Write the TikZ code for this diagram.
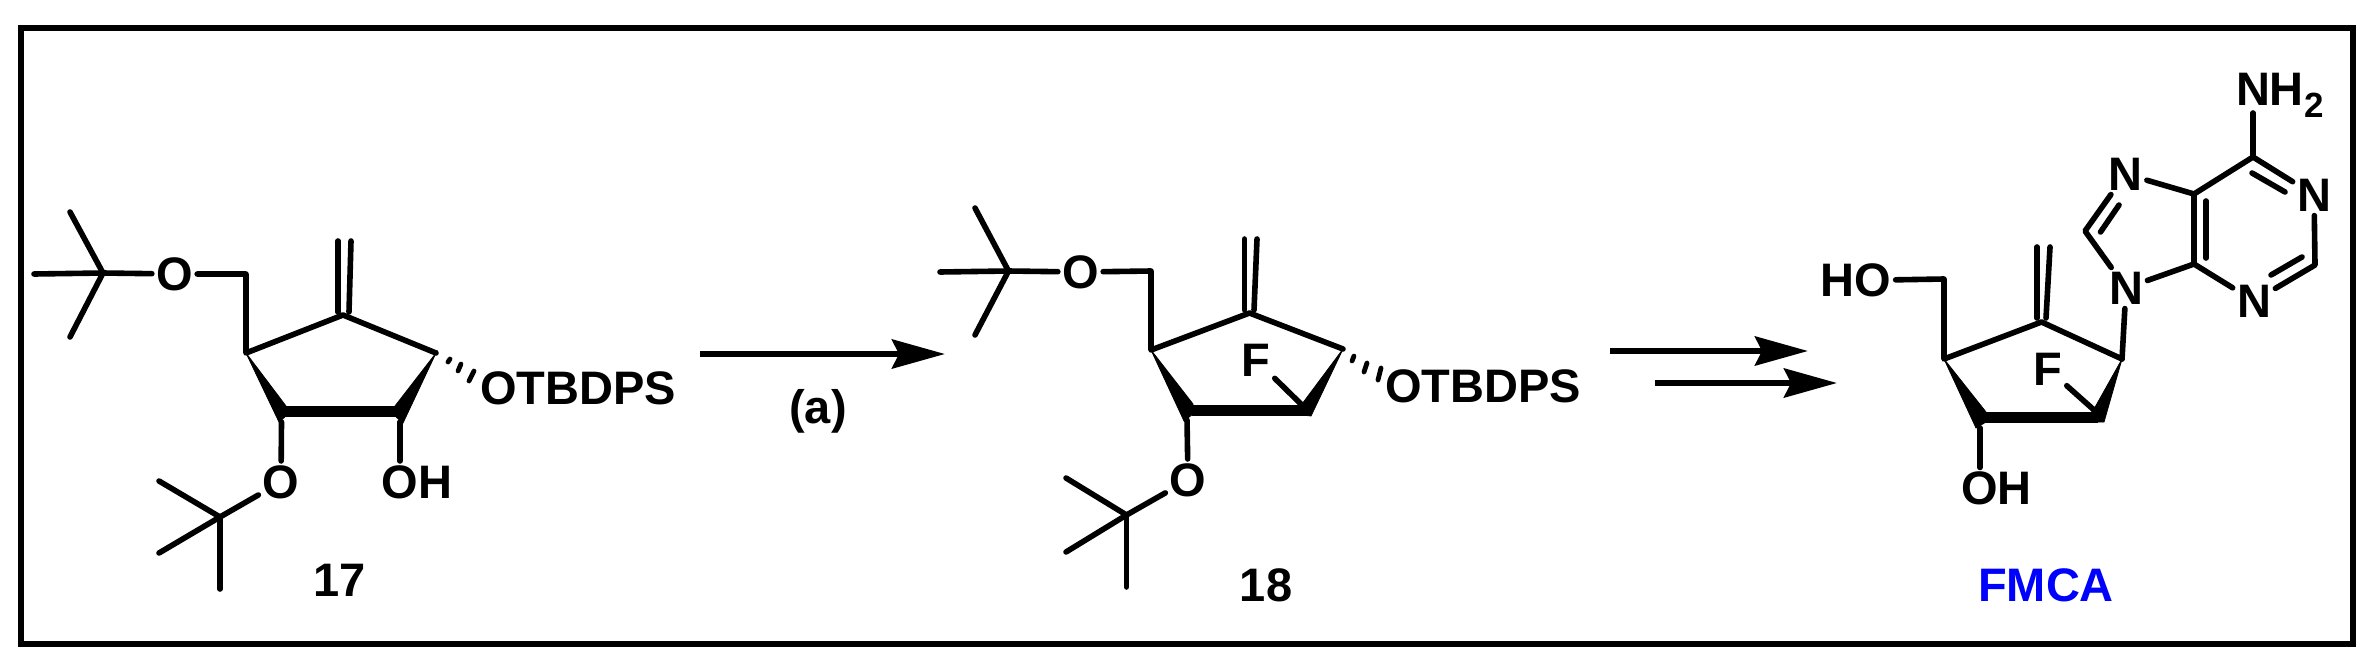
\documentclass[tikz,border=0pt]{standalone}
\usepackage{fontspec}
\setmainfont{Liberation Sans}
\usetikzlibrary{arrows.meta}
\definecolor{fmcablue}{RGB}{0,0,255}
\tikzset{
  x=0.5pt,y=-0.5pt,
  bond/.style={line width=2.8pt,line cap=round,line join=round,black},
  hash/.style={line width=2.4pt,line cap=round,black},
  solid wedge/.style={fill=black,draw=black,line width=0.4pt,line join=miter},
  atom/.style={inner sep=2.2pt,outer sep=0pt,font=\fontsize{23.5}{26}\selectfont\bfseries,text=black},
  cmpd/.style={inner sep=0pt,outer sep=0pt,font=\fontsize{23.5}{26}\selectfont\bfseries,text=black},
  rxn/.style={line width=3pt,-{Stealth[length=26.5pt,width=14.5pt,inset=3.5pt]},black},
  frame/.style={draw=black,line width=3pt,line join=miter}
}
\begin{document}
\begin{tikzpicture}
\useasboundingbox (0,0) rectangle (2370,669);
\coordinate (fa) at (21,28); \coordinate (fb) at (2353,644);
\draw[frame] (fa) rectangle (fb);

% ---------- compound 17
\coordinate (a-tbu) at (103,273);
\coordinate (a-m1) at (70,212);
\coordinate (a-m2) at (34,274);
\coordinate (a-m3) at (70,337);
\coordinate (a-ch2) at (246,274);
\coordinate (a-c1) at (246,353);
\coordinate (a-c2) at (343,315);
\coordinate (a-c3) at (436,353);
\coordinate (a-c4) at (400,422);
\coordinate (a-c5) at (281.5,422);
\coordinate (a-d1) at (338,241);
\coordinate (a-d2) at (351,241);
\coordinate (a-d1b) at (338,312);
\coordinate (a-d2b) at (349,312);
\coordinate (a-tb) at (220,517);
\coordinate (a-m4) at (159,481);
\coordinate (a-m5) at (159,553);
\coordinate (a-m6) at (220,589);
\node[atom] (a-o1) at (174.5,274) {O};
\node[atom] (a-o2) at (281,482) {O};
\node[atom] (a-oh) at (417,482) {OH};
\node[cmpd] (a-otb) at (578,388) {OTBDPS};
\node[cmpd] (a-lab) at (340,580) {17};
\draw[bond] (a-m1) -- (a-tbu);
\draw[bond] (a-m2) -- (a-tbu);
\draw[bond] (a-m3) -- (a-tbu);
\draw[bond] (a-tbu) -- (a-o1);
\draw[bond] (a-o1) -- (a-ch2) -- (a-c1) -- (a-c2) -- (a-c3);
\draw[bond] (a-d1) -- (a-d1b);
\draw[bond] (a-d2) -- (a-d2b);
\fill[solid wedge] (a-c1) -- (286,406) -- (286,416) -- (279,422) -- cycle;
\fill[solid wedge] (286,406) rectangle (396,416);
\fill[solid wedge] (a-c3) -- (395,406) -- (395,416) -- (403,423) -- cycle;
\draw[bond] (a-c5) -- (a-o2);
\draw[bond] (a-c4) -- (a-c4 |- a-oh.north);
\draw[bond] (a-tb) -- (a-o2);
\draw[bond] (a-tb) -- (a-m4);
\draw[bond] (a-tb) -- (a-m5);
\draw[bond] (a-tb) -- (a-m6);
\draw[hash] (450,359) -- (448,362);
\draw[hash] (461,364) -- (458,371);
\draw[hash] (474,371) -- (469,381);

% ---------- arrow 1
\coordinate (r1a) at (700,354); \coordinate (r1b) at (945,354);
\draw[rxn] (r1a) -- (r1b);
\node[cmpd] (r1l) at (818,411) {(a)};

% ---------- compound 18
\coordinate (b-tbu) at (1008.5,271);
\coordinate (b-m1) at (975,208);
\coordinate (b-m2) at (940,272);
\coordinate (b-m3) at (975,335);
\coordinate (b-ch2) at (1151,271);
\coordinate (b-c1) at (1151,350);
\coordinate (b-c2) at (1249.5,313);
\coordinate (b-c3) at (1343,349);
\coordinate (b-c4) at (1305,408);
\coordinate (b-c5) at (1187,420);
\coordinate (b-d1) at (1244.5,239);
\coordinate (b-d2) at (1257,239);
\coordinate (b-d1b) at (1244.5,310);
\coordinate (b-d2b) at (1254,310);
\coordinate (b-tb) at (1126.5,515);
\coordinate (b-m4) at (1066,478);
\coordinate (b-m5) at (1066,552);
\coordinate (b-m6) at (1126.5,587);
\node[atom] (b-o1) at (1080.5,272) {O};
\node[atom] (b-o2) at (1188,480) {O};
\node[atom] (b-f) at (1256,360) {F};
\node[cmpd] (b-otb) at (1483,386) {OTBDPS};
\node[cmpd] (b-lab) at (1266,585) {18};
\draw[bond] (b-m1) -- (b-tbu);
\draw[bond] (b-m2) -- (b-tbu);
\draw[bond] (b-m3) -- (b-tbu);
\draw[bond] (b-tbu) -- (b-o1);
\draw[bond] (b-o1) -- (b-ch2) -- (b-c1) -- (b-c2) -- (b-c3);
\draw[bond] (b-d1) -- (b-d1b);
\draw[bond] (b-d2) -- (b-d2b);
\fill[solid wedge] (b-c1) -- (1193,404) -- (1193,414) -- (1184,421) -- cycle;
\fill[solid wedge] (1192,405) rectangle (1304,415);
\fill[solid wedge] (b-c3) -- (1302,404) -- (1302,415) -- (1311,416) -- cycle;
\draw[bond] (b-c4) -- (b-f);
\draw[bond] (b-c5) -- (b-o2);
\draw[bond] (b-tb) -- (b-o2);
\draw[bond] (b-tb) -- (b-m4);
\draw[bond] (b-tb) -- (b-m5);
\draw[bond] (b-tb) -- (b-m6);
\draw[hash] (1354,356) -- (1352,361);
\draw[hash] (1367,363) -- (1364,372);
\draw[hash] (1381,368) -- (1378,380);

% ---------- double arrows
\coordinate (r2a) at (1610,351); \coordinate (r2b) at (1808,351);
\coordinate (r3a) at (1654.5,383); \coordinate (r3b) at (1837,383);
\draw[rxn] (r2a) -- (r2b);
\draw[rxn] (r3a) -- (r3b);

% ---------- FMCA
\coordinate (c-ch2) at (1944,279);
\coordinate (c-c1) at (1944,359);
\coordinate (c-c2) at (2041.5,322);
\coordinate (c-c3) at (2122,359);
\coordinate (c-c4) at (2094,410);
\coordinate (c-c5) at (1980,428);
\coordinate (c-d1) at (2037,247);
\coordinate (c-d2) at (2050,247);
\coordinate (c-d1b) at (2037,318);
\coordinate (c-d2b) at (2046,318);
\coordinate (p-c6) at (2253,157);
\coordinate (p-c5) at (2194,194);
\coordinate (p-c4) at (2194,264);
\coordinate (p-c8) at (2085,231);
\coordinate (p-c2) at (2315,265);
\coordinate (p-nhend) at (2253,113);
\coordinate (p-i1a) at (2252,173); \coordinate (p-i1b) at (2285,192);
\coordinate (p-i2a) at (2302,257); \coordinate (p-i2b) at (2271,275);
\coordinate (p-i3a) at (2206,201); \coordinate (p-i3b) at (2206,258);
\coordinate (p-i4a) at (2119,205); \coordinate (p-i4b) at (2100.5,232);
\node[atom] (c-ho) at (1856,280.5) {HO};
\node[atom] (c-oh) at (1996.5,488.5) {OH};
\node[atom] (c-f) at (2048,369) {F};
\node[cmpd,anchor=base west] (p-nh2) at (2236,105) {NH\kern0.5pt\raisebox{-6pt}{\fontsize{17.5}{20}\selectfont 2}};
\node[atom] (p-n1) at (2314,195) {N};
\node[atom] (p-n3) at (2254,301) {N};
\node[atom] (p-n7) at (2125.5,174) {N};
\node[atom] (p-n9) at (2126,288) {N};
\node[cmpd,text=fmcablue] (c-lab) at (2046,585.5) {FMCA};
\draw[bond] (c-ho) -- (c-ch2) -- (c-c1) -- (c-c2) -- (c-c3);
\draw[bond] (c-d1) -- (c-d1b);
\draw[bond] (c-d2) -- (c-d2b);
\fill[solid wedge] (c-c1) -- (1986,412) -- (1986,422) -- (1976,428) -- cycle;
\fill[solid wedge] (1985,412) rectangle (2097,422);
\fill[solid wedge] (c-c3) -- (2094,409) -- (2084,422) -- (2104,422) -- cycle;
\draw[bond] (c-c4) -- (c-f);
\draw[bond] (c-c5) -- (c-c5 |- c-oh.north);
\draw[bond] (c-c3) -- (p-n9);
\draw[bond] (p-n9) -- (p-c4) -- (p-c5) -- (p-n7);
\draw[bond] (p-c5) -- (p-c6);
\draw[bond] (p-c6) -- (p-nhend);
\draw[bond] (p-c6) -- (p-n1);
\draw[bond] (p-i1a) -- (p-i1b);
\draw[bond] (p-n1) -- (p-c2) -- (p-n3);
\draw[bond] (p-i2a) -- (p-i2b);
\draw[bond] (p-n3) -- (p-c4);
\draw[bond] (p-i3a) -- (p-i3b);
\draw[bond] (p-n7) -- (p-c8) -- (p-n9);
\draw[bond] (p-i4a) -- (p-i4b);
\end{tikzpicture}
\end{document}
